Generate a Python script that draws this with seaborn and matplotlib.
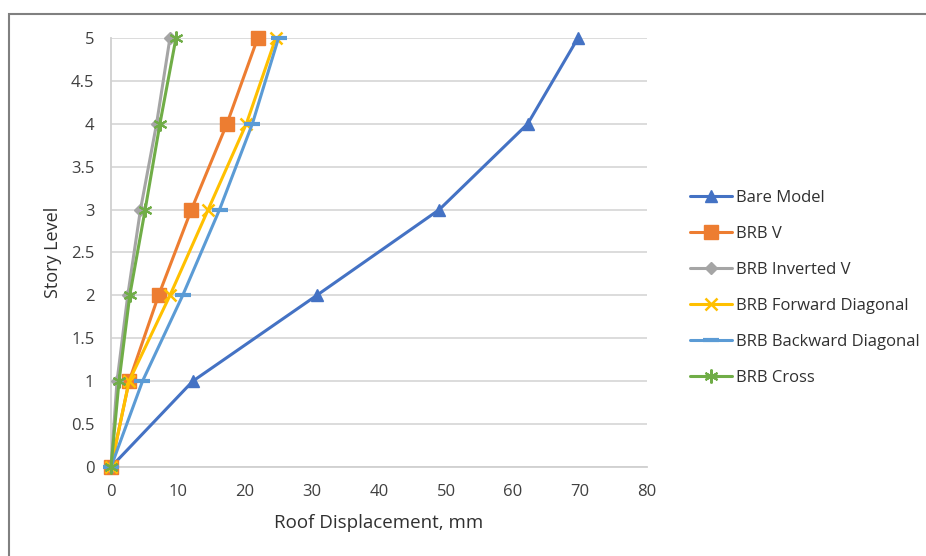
import matplotlib
matplotlib.use("Agg")
import matplotlib.pyplot as plt
import seaborn as sns
import pandas as pd
from matplotlib.patches import Rectangle

story = [0, 1, 2, 3, 4, 5]
bare_model = [0, 12.2, 30.7, 49.0, 62.2, 69.7]
brb_v = [0, 2.7, 7.1, 12.0, 17.3, 21.9]
brb_inverted_v = [0, 0.9, 2.5, 4.4, 6.8, 8.8]
brb_forward = [0, 2.7, 8.8, 14.5, 20.2, 24.6]
brb_backward = [0, 4.7, 10.7, 16.2, 21.1, 25.0]
brb_cross = [0, 1.2, 2.8, 5.1, 7.3, 9.7]

series_names = ["Bare Model", "BRB V", "BRB Inverted V", "BRB Forward Diagonal",
                "BRB Backward Diagonal", "BRB Cross"]
series_values = [bare_model, brb_v, brb_inverted_v, brb_forward, brb_backward, brb_cross]
x_ticks = [0, 10, 20, 30, 40, 50, 60, 70, 80]
y_ticks = [0, 0.5, 1, 1.5, 2, 2.5, 3, 3.5, 4, 4.5, 5]

colors = ["#4472C4", "#ED7D31", "#A5A5A5", "#FFC000", "#5B9BD5", "#70AD47"]
markers = ["^", "s", "D", "x", "_", (6, 2, 0)]
msizes = [9, 10, 6, 9, 12, 10]
mews = [1, 1, 1, 1.8, 3, 1.5]

rows = []
for name, vals in zip(series_names, series_values):
    for s, v in zip(story, vals):
        rows.append({"series": name, "disp": v, "story": s})
df = pd.DataFrame(rows)

sns.set_style("white")
plt.rcParams["font.family"] = ["Open Sans", "DejaVu Sans"]

fig = plt.figure(figsize=(9.26, 5.56), dpi=100)
ax = fig.add_axes([111 / 926, 1 - 467 / 556, (647 - 111) / 926, (467 - 38) / 556])

for i, name in enumerate(series_names):
    sub = df[df["series"] == name]
    sns.lineplot(data=sub, x="disp", y="story", ax=ax, sort=False, estimator=None,
                 color=colors[i], linewidth=2.2, marker=markers[i], markersize=msizes[i],
                 markeredgewidth=mews[i], markeredgecolor=colors[i],
                 markerfacecolor=colors[i], label=name, zorder=3 + i, clip_on=False)

ax.set_xlim(0, 80)
ax.set_ylim(0, 5)
ax.set_xticks(x_ticks)
ax.set_yticks(y_ticks)
ax.set_xticklabels([str(t) for t in x_ticks])
ax.set_yticklabels([("%g" % t) for t in y_ticks])
ax.yaxis.grid(True, color="#D9D9D9", linewidth=1.3)
ax.xaxis.grid(False)
for s in ["top", "right"]:
    ax.spines[s].set_visible(False)
ax.spines["left"].set_color("#D0D0D0")
ax.spines["bottom"].set_color("#D0D0D0")
ax.spines["left"].set_linewidth(1.3)
ax.spines["bottom"].set_linewidth(1.3)
ax.tick_params(axis="both", length=0, labelsize=12, colors="#404040")
ax.tick_params(axis="y", pad=12)
ax.tick_params(axis="x", pad=12)
ax.set_xlabel("Roof Displacement, mm", fontsize=13.5, color="#303030", labelpad=10)
ax.set_ylabel("Story Level", fontsize=13, color="#303030", labelpad=6)

leg = ax.legend(loc="center left", bbox_to_anchor=((690 - 111) / 536, (467 - 287.5) / 429),
                frameon=False, fontsize=12, labelspacing=1.2, handlelength=2.5,
                handletextpad=0.25, borderaxespad=0, borderpad=0)
for t in leg.get_texts():
    t.set_color("#303030")

fig.patches.append(Rectangle((9 / 926, -0.1), 1.2, 1 - 14 / 556 + 0.1,
                             transform=fig.transFigure, fill=False,
                             edgecolor="#808080", linewidth=1.5, zorder=0))

fig.savefig("out.png", dpi=100)
